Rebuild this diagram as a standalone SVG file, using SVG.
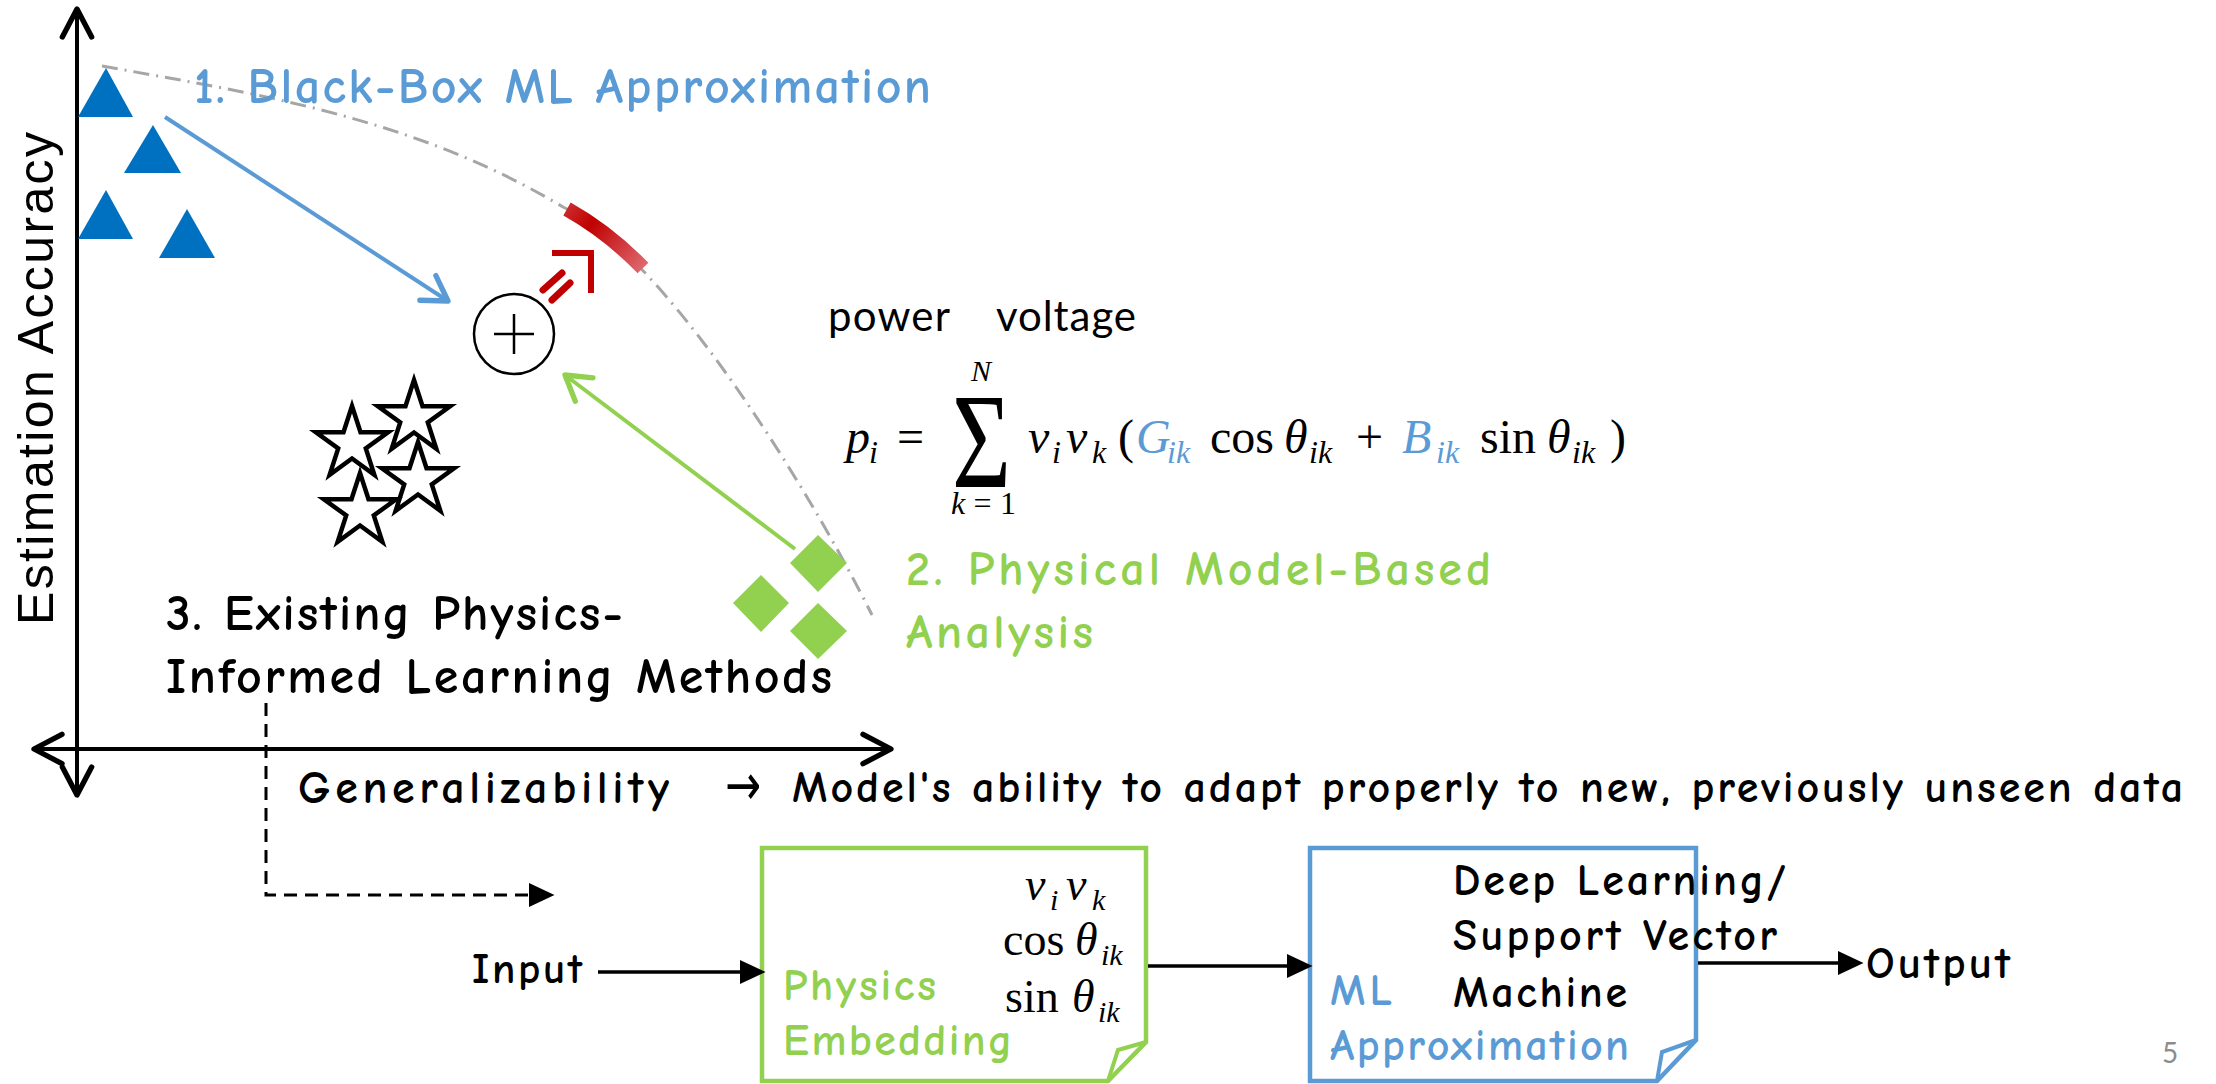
<svg xmlns="http://www.w3.org/2000/svg" width="2216" height="1084" viewBox="0 0 2216 1084">
<style>
.hand{font-family:"Comic Sans MS","Comic Neue","Noto Sans",sans-serif;font-weight:700;}
.blue{fill:#5B9BD5;}
.green{fill:#92D050;}
.blk{fill:#000;}
.math{font-family:"Liberation Serif","DejaVu Serif",serif;}
.it{font-style:italic;}
.axis{stroke:#000;stroke-width:4;fill:none;}
.flow{stroke:#000;stroke-width:3.5;fill:none;}
</style>
<defs>
<marker id="chevK" markerUnits="userSpaceOnUse" markerWidth="40" markerHeight="40" viewBox="-25 -15 30 30" refX="0" refY="0" orient="auto-start-reverse" overflow="visible">
<path d="M-21,-11 L0,0 L-21,11" fill="none" stroke="#000" stroke-width="4" stroke-linecap="round" stroke-linejoin="round"/>
</marker>
<marker id="chevB" markerUnits="userSpaceOnUse" markerWidth="40" markerHeight="40" viewBox="-25 -15 30 30" refX="0" refY="0" orient="auto" overflow="visible">
<path d="M-18,-11 L0,0 L-18,11" fill="none" stroke="#5B9BD5" stroke-width="4" stroke-linecap="round" stroke-linejoin="round"/>
</marker>
<marker id="chevG" markerUnits="userSpaceOnUse" markerWidth="40" markerHeight="40" viewBox="-25 -15 30 30" refX="0" refY="0" orient="auto" overflow="visible">
<path d="M-18,-11 L0,0 L-18,11" fill="none" stroke="#92D050" stroke-width="4" stroke-linecap="round" stroke-linejoin="round"/>
</marker>
<marker id="tri" markerUnits="userSpaceOnUse" markerWidth="30" markerHeight="30" viewBox="-10 -10 20 20" refX="0" refY="0" orient="auto" overflow="visible">
<path d="M-8,-8 L9,0 L-8,8 Z" fill="#000"/>
</marker>
<linearGradient id="redband" gradientUnits="userSpaceOnUse" x1="565" y1="210" x2="645" y2="268">
<stop offset="0" stop-color="#CC2A2A"/>
<stop offset="0.3" stop-color="#C00000"/>
<stop offset="1" stop-color="#DE6A70"/>
</linearGradient>
<polygon id="star" points="0,-38 8.52,-11.73 36.14,-11.74 13.79,4.48 22.34,30.74 0,14.5 -22.34,30.74 -13.79,4.48 -36.14,-11.74 -8.52,-11.73" fill="#fff" stroke="#000" stroke-width="4.5" stroke-linejoin="miter"/>
</defs>

<rect width="2216" height="1084" fill="#fff"/>

<g id="axes">
<line class="axis" x1="77" y1="9" x2="77" y2="795" marker-start="url(#chevK)" marker-end="url(#chevK)"/>
<line class="axis" x1="34" y1="749" x2="891" y2="749" marker-start="url(#chevK)" marker-end="url(#chevK)"/>
<text transform="translate(53,625) rotate(-90)" x="0" y="0" font-family="Liberation Sans, Arial, sans-serif" font-size="50" textLength="493" fill="#000">Estimation Accuracy</text>
<text class="hand blk" x="298" y="803" font-size="46" textLength="371">Generalizability</text>
<text x="725" y="805" font-family="DejaVu Sans, sans-serif" font-size="58" fill="#000" textLength="36" lengthAdjust="spacingAndGlyphs">→</text>
<text class="hand blk" x="792" y="802" font-size="44" textLength="1391">Model's ability to adapt properly to new, previously unseen data</text>
</g>

<g id="frontier">
<path d="M102,66 C252,93 413,117 563,207 C660,252 802,475 872,615" fill="none" stroke="#A6A6A6" stroke-width="3" stroke-dasharray="16 7 2 7"/>
<path d="M567,209 Q608,232 643,268" fill="none" stroke="url(#redband)" stroke-width="15"/>
<g stroke="#C00000" fill="none">
<line x1="543" y1="290" x2="562" y2="273" stroke-width="7" stroke-linecap="round"/>
<line x1="552" y1="300" x2="570" y2="283" stroke-width="7" stroke-linecap="round"/>
<polyline points="552,253 591,253 591,293" stroke-width="6"/>
</g>
</g>

<g id="node-blackbox">
<polygon points="106,68 133,117 78,117" fill="#0070C0"/>
<polygon points="153,125 181,173 124,173" fill="#0070C0"/>
<polygon points="106,190 133,239 78,239" fill="#0070C0"/>
<polygon points="187,209 215,258 159,258" fill="#0070C0"/>
<text class="hand blue" x="194" y="103" font-size="50" textLength="737">1. Black-Box ML Approximation</text>
</g>

<g id="node-combine">
<circle cx="514" cy="334" r="40" fill="#fff" stroke="#000" stroke-width="2.5"/>
<line x1="494" y1="334" x2="534" y2="334" stroke="#000" stroke-width="2.5"/>
<line x1="514" y1="314" x2="514" y2="354" stroke="#000" stroke-width="2.5"/>
</g>

<g id="node-existing">
<use href="#star" transform="translate(414,418)"/>
<use href="#star" transform="translate(352,444)"/>
<use href="#star" transform="translate(418,480)"/>
<use href="#star" transform="translate(360,511)"/>
<text class="hand blk" x="166" y="630" font-size="50" textLength="457">3. Existing Physics-</text>
<text class="hand blk" x="166" y="693" font-size="50" textLength="666">Informed Learning Methods</text>
</g>

<g id="node-physical">
<polygon points="818,535 847,563 818,592 790,563" fill="#92D050"/>
<polygon points="761,575 789,603 761,632 733,603" fill="#92D050"/>
<polygon points="818,603 847,631 818,659 790,631" fill="#92D050"/>
<text class="hand green" x="906" y="585" font-size="48" textLength="585">2. Physical Model-Based</text>
<text class="hand green" x="906" y="648" font-size="48" textLength="187">Analysis</text>
</g>

<g id="formula">
<text x="828" y="331" font-family="Lato, 'Liberation Sans', sans-serif" font-size="42" textLength="122" fill="#000">power</text>
<text x="996" y="331" font-family="Lato, 'Liberation Sans', sans-serif" font-size="42" textLength="140" fill="#000">voltage</text>
<g class="math" font-size="48" fill="#000">
<text class="it" x="846" y="453">p</text>
<text class="it" x="869" y="463" font-size="32">i</text>
<text x="897" y="453">=</text>
<text x="952" y="487" font-size="135" textLength="59" lengthAdjust="spacingAndGlyphs">Σ</text>
<text class="it" x="971" y="381" font-size="30">N</text>
<text x="951" y="514" font-size="32" textLength="65"><tspan class="it">k</tspan>=1</text>
<text class="it" x="1028" y="453">v</text>
<text class="it" x="1052" y="463" font-size="32">i</text>
<text class="it" x="1066" y="453">v</text>
<text class="it" x="1092" y="463" font-size="32">k</text>
<text x="1118" y="453">(</text>
<text class="it" x="1136" y="453" fill="#5B9BD5">G</text>
<text class="it" x="1167" y="463" font-size="32" fill="#5B9BD5">ik</text>
<text x="1210" y="453">cos</text>
<text class="it" x="1284" y="453">θ</text>
<text class="it" x="1309" y="463" font-size="32">ik</text>
<text x="1356" y="453">+</text>
<text class="it" x="1402" y="453" fill="#5B9BD5">B</text>
<text class="it" x="1436" y="463" font-size="32" fill="#5B9BD5">ik</text>
<text x="1480" y="453">sin</text>
<text class="it" x="1547" y="453">θ</text>
<text class="it" x="1572" y="463" font-size="32">ik</text>
<text x="1610" y="453">)</text>
</g>
</g>

<g id="node-input">
<text class="hand blk" x="472" y="983" font-size="43" textLength="110">Input</text>
</g>

<g id="node-physics-embedding">
<path d="M762,848 H1146 V1042 L1108,1081 H762 Z" fill="#fff" stroke="#92D050" stroke-width="4.5" stroke-linejoin="miter"/>
<path d="M1146,1042 L1118,1050 L1108,1081" fill="none" stroke="#92D050" stroke-width="4"/>
<text class="hand green" x="783" y="1000" font-size="44" textLength="153">Physics</text>
<text class="hand green" x="783" y="1055" font-size="44" textLength="229">Embedding</text>
<g class="math" font-size="46" fill="#000">
<text class="it" x="1025" y="900">v</text>
<text class="it" x="1050" y="910" font-size="30">i</text>
<text class="it" x="1066" y="900">v</text>
<text class="it" x="1092" y="910" font-size="30">k</text>
<text x="1003" y="955">cos</text>
<text class="it" x="1075" y="955">θ</text>
<text class="it" x="1101" y="965" font-size="30">ik</text>
<text x="1005" y="1012">sin</text>
<text class="it" x="1072" y="1012">θ</text>
<text class="it" x="1098" y="1022" font-size="30">ik</text>
</g>
</g>

<g id="node-ml-approx">
<path d="M1310,848 H1696 V1040 L1657,1081 H1310 Z" fill="#fff" stroke="#5B9BD5" stroke-width="4.5" stroke-linejoin="miter"/>
<path d="M1696,1040 L1662,1052 L1657,1081" fill="none" stroke="#5B9BD5" stroke-width="4"/>
<text class="hand blue" x="1330" y="1005" font-size="44" textLength="62">ML</text>
<text class="hand blue" x="1330" y="1060" font-size="44" textLength="299">Approximation</text>
<text class="hand blk" x="1453" y="895" font-size="44" textLength="333">Deep Learning/</text>
<text class="hand blk" x="1453" y="950" font-size="44" textLength="324">Support Vector</text>
<text class="hand blk" x="1453" y="1007" font-size="44" textLength="174">Machine</text>
</g>

<g id="node-output">
<text class="hand blk" x="1866" y="978" font-size="45" textLength="144">Output</text>
</g>

<g id="connectors">
<line x1="165" y1="117" x2="448" y2="301" style="stroke:#5B9BD5;stroke-width:4" marker-end="url(#chevB)"/>
<line x1="795" y1="549" x2="565" y2="375" style="stroke:#92D050;stroke-width:4" marker-end="url(#chevG)"/>
<path d="M266,703 V895 H541" fill="none" stroke="#000" stroke-width="3" stroke-dasharray="13 8" marker-end="url(#tri)"/>
<line class="flow" x1="598" y1="972" x2="752" y2="972" marker-end="url(#tri)"/>
<line class="flow" x1="1148" y1="966" x2="1299" y2="966" marker-end="url(#tri)"/>
<line class="flow" x1="1698" y1="963" x2="1850" y2="963" marker-end="url(#tri)"/>
</g>

<text x="2162" y="1063" font-family="Lato, 'Liberation Sans', sans-serif" font-size="28" fill="#8C8C8C">5</text>
</svg>
